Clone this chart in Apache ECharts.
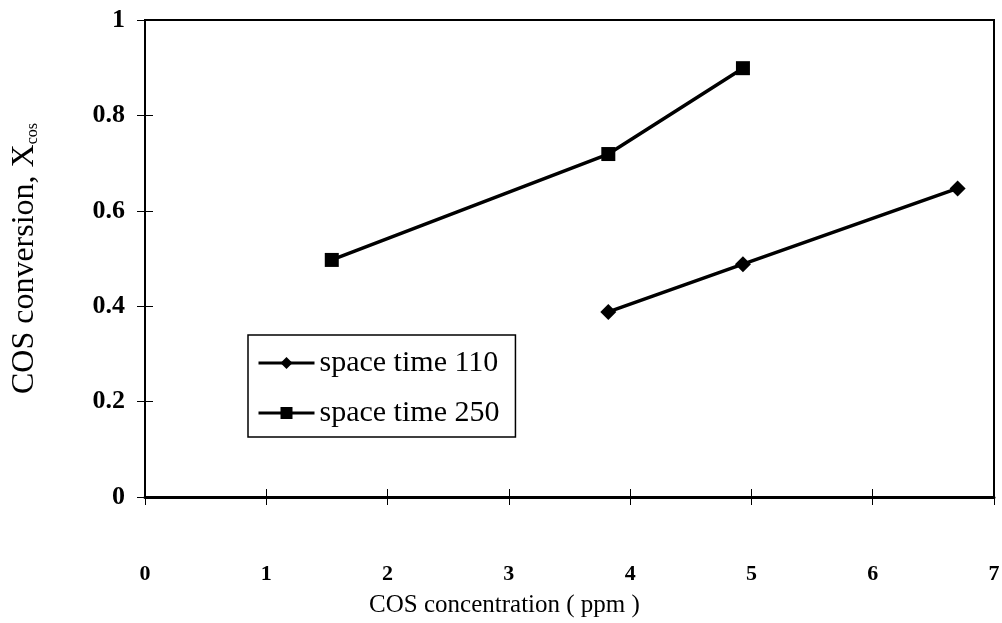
<!DOCTYPE html>
<html>
<head>
<meta charset="utf-8">
<script src="https://cdn.jsdelivr.net/npm/echarts@6/dist/echarts.min.js"></script>
<style>
html, body { margin: 0; padding: 0; background: #fff; }
#main { width: 1002px; height: 623px; }
</style>
</head>
<body>
<div id="main"></div>
<script>
// data
var seriesNames = ['space time 110', 'space time 250'];
var conc110 = [3.82, 4.93, 6.70];
var conv110 = [0.388, 0.488, 0.647];
var conc250 = [1.54, 3.82, 4.93];
var conv250 = [0.497, 0.719, 0.899];

function pairs(xs, ys) {
    var out = [];
    for (var i = 0; i < xs.length; i++) {
        out.push([xs[i], ys[i]]);
    }
    return out;
}

var serif = 'Liberation Serif';

var myChart = echarts.init(document.getElementById('main'));
var option = {
    backgroundColor: '#fff',
    animation: false,
    grid: {
        left: 145, right: 8, top: 20, bottom: 126,
        outerBoundsMode: 'none',
        show: true, borderColor: '#000', borderWidth: 2
    },
    legend: {
        orient: 'vertical',
        left: 248, top: 335,
        padding: [13, 16, 9, 9],
        itemGap: 20,
        itemWidth: 56,
        itemHeight: 15,
        borderColor: '#000', borderWidth: 1.5,
        backgroundColor: '#fff',
        lineStyle: { width: 3 },
        textStyle: { fontFamily: serif, fontSize: 30, color: '#000' },
        data: seriesNames
    },
    xAxis: [{
        type: 'value', min: 0, max: 7, interval: 1,
        name: 'COS concentration ( ppm )',
        nameLocation: 'middle', nameGap: 96,
        nameTextStyle: { fontFamily: serif, fontSize: 25, color: '#000', padding: [0, 130, 0, 0] },
        axisLine: { onZero: false, lineStyle: { color: '#000', width: 3 } },
        axisTick: { length: 8, lineStyle: { color: '#000', width: 1 } },
        axisLabel: { margin: 66, fontFamily: serif, fontSize: 22, fontWeight: 'bold', color: '#000' },
        splitLine: { show: false }
    }, {
        type: 'value', min: 0, max: 7, interval: 1, position: 'bottom',
        axisLine: { show: false },
        axisTick: { inside: true, length: 8, lineStyle: { color: '#000', width: 1 } },
        axisLabel: { show: false },
        splitLine: { show: false }
    }],
    yAxis: [{
        type: 'value', min: 0, max: 1, interval: 0.2,
        name: 'COS conversion, X{sub|cos}',
        nameLocation: 'middle', nameGap: 104, nameRotate: 90,
        nameTextStyle: {
            fontFamily: serif, fontSize: 32, color: '#000',
            rich: { sub: { fontFamily: serif, fontSize: 16, color: '#000', verticalAlign: 'bottom', padding: [13, 0, 0, 0] } }
        },
        axisLine: { show: true, lineStyle: { color: '#000', width: 2 } },
        axisTick: { show: true, length: 8, lineStyle: { color: '#000', width: 1 } },
        axisLabel: { margin: 20, fontFamily: serif, fontSize: 26, fontWeight: 'bold', color: '#000' },
        splitLine: { show: false }
    }, {
        type: 'value', min: 0, max: 1, interval: 0.2, position: 'left',
        axisLine: { show: false },
        axisTick: { show: true, inside: true, length: 8, lineStyle: { color: '#000', width: 1 } },
        axisLabel: { show: false },
        splitLine: { show: false }
    }],
    series: [{
        name: seriesNames[0],
        type: 'line',
        data: pairs(conc110, conv110),
        symbol: 'diamond', symbolSize: 16,
        lineStyle: { color: '#000', width: 3.5 },
        itemStyle: { color: '#000' }
    }, {
        name: seriesNames[1],
        type: 'line',
        data: pairs(conc250, conv250),
        symbol: 'rect', symbolSize: 14,
        lineStyle: { color: '#000', width: 3.5 },
        itemStyle: { color: '#000' }
    }]
};
myChart.setOption(option);
</script>
</body>
</html>
